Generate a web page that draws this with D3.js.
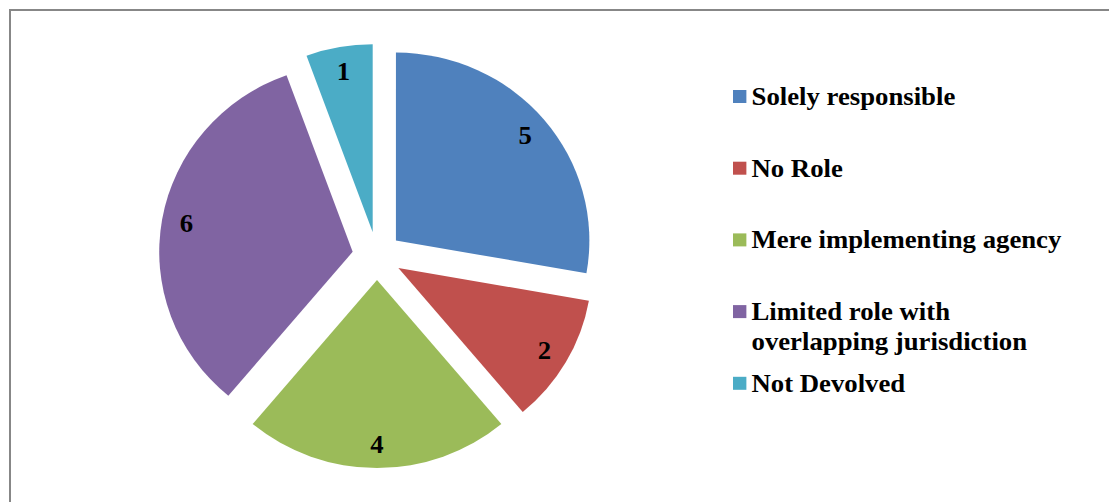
<!DOCTYPE html>
<html>
<head>
<meta charset="utf-8">
<script src="https://cdn.jsdelivr.net/npm/d3@7"></script>
<style>
  body { margin: 0; background: #fff; }
  svg { display: block; }
</style>
</head>
<body>
<div id="chart"></div>
<script>
// data
var categories = ["Solely responsible", "No Role", "Mere implementing agency", "Limited role with overlapping jurisdiction", "Not Devolved"];
var legendLines = [["Solely responsible"], ["No Role"], ["Mere implementing agency"], ["Limited role with", "overlapping jurisdiction"], ["Not Devolved"]];
var values = [5, 2, 4, 6, 1];
var colors = ["#4F81BD", "#C0504D", "#9BBB59", "#8064A2", "#4BACC6"];

var width = 1109, height = 502;
// the original picture is stretched a little horizontally
var sx = 1.029;
var cx = 377 / sx, cy = 256, radius = 188, explode = 24;
var labelRadius = 164;
var fontFam = "'Liberation Serif', 'Times New Roman', serif";

var svg = d3.select("#chart").append("svg")
  .attr("width", width)
  .attr("height", height);

svg.append("rect")
  .attr("x", 10)
  .attr("y", 10)
  .attr("width", width + 20)
  .attr("height", height + 20)
  .attr("fill", "#fff")
  .attr("stroke", "#878787")
  .attr("stroke-width", 2);

var content = svg.append("g")
  .attr("transform", "scale(" + sx + ",1)");

var pie = d3.pie().sort(null).value(d => d);
var arcs = pie(values);
var arc = d3.arc().innerRadius(0).outerRadius(radius);

var pieG = content.append("g")
  .attr("transform", "translate(" + cx + "," + cy + ")");

function offset(d, r) {
  var a = (d.startAngle + d.endAngle) / 2;
  return [Math.sin(a) * r, -Math.cos(a) * r];
}

var slices = pieG.selectAll("g.slice")
  .data(arcs)
  .enter().append("g")
  .attr("class", "slice")
  .attr("transform", function(d) {
    var o = offset(d, explode);
    return "translate(" + o[0] + "," + o[1] + ")";
  });

slices.append("path")
  .attr("d", arc)
  .attr("fill", (d, i) => colors[i]);

slices.append("text")
  .attr("x", d => offset(d, labelRadius)[0])
  .attr("y", d => offset(d, labelRadius)[1])
  .attr("dy", "0.35em")
  .attr("text-anchor", "middle")
  .attr("font-family", fontFam)
  .attr("font-weight", "bold")
  .attr("font-size", "26px")
  .attr("fill", "#000")
  .text(d => d.data);

// legend
var legendX = 733 / sx, legendTop = 105, legendStep = 71.7, lineH = 30, gap = 40;
var legend = content.append("g").attr("id", "legend");
var prevLast = -Infinity;
legendLines.forEach(function(lines, i) {
  var y0 = Math.max(legendTop + i * legendStep, prevLast + gap);
  var item = legend.append("g");
  item.append("rect")
    .attr("x", legendX)
    .attr("y", y0 - 15)
    .attr("width", 13)
    .attr("height", 13)
    .attr("fill", colors[i]);
  lines.forEach(function(t, j) {
    item.append("text")
      .attr("x", legendX + 18)
      .attr("y", y0 + j * lineH)
      .attr("font-family", fontFam)
      .attr("font-weight", "bold")
      .attr("font-size", "26px")
      .attr("fill", "#000")
      .text(t);
  });
  prevLast = y0 + (lines.length - 1) * lineH;
});
</script>
</body>
</html>
